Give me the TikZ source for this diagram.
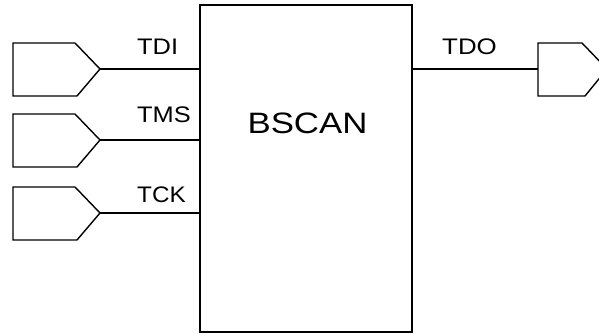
\documentclass[tikz,border=0pt]{standalone}
\usepackage{fontspec}
\setmainfont{Liberation Sans}
\begin{document}
\begin{tikzpicture}[x=1pt,y=-1pt,
  pin/.style={line width=1.4pt,line join=miter},
  wire/.style={line width=1.4pt},
  lbl/.style={inner sep=0pt,anchor=base west,font=\fontsize{22.5}{24}\selectfont},
  block/.style={draw,line width=2pt,minimum width=212pt,minimum height=327pt,inner sep=0pt}]
\useasboundingbox (0,0) rectangle (599,334);
\clip (0,0) rectangle (599,334);
\node[block] (bscan) at (306,168.5) {};
\node[inner sep=0pt,anchor=base,font=\fontsize{29.5}{32}\selectfont] (title) at (307.5,133) {\scalebox{1.18}[1]{BSCAN}};
% input pins
\foreach \n/\y in {tdi/69,tms/140,tck/213}{
  \draw[pin] (13,\y-26) -- (75,\y-26) -- (100,\y) -- (77,\y+27) -- (13,\y+27) -- cycle;
  \coordinate (\n) at (100,\y);
  \draw[wire] (\n) -- (bscan.west |- \n);
}
\node[lbl] (ltdi) at (137,55) {\scalebox{1.13}[1]{TDI}};
\node[lbl] (ltms) at (137,122) {\scalebox{1.13}[1]{TMS}};
\node[lbl] (ltck) at (137,202) {\scalebox{1.08}[1]{TCK}};
% output pin
\coordinate (tdo) at (538,69);
\draw[pin] (538,43) -- (582,43) -- (607,69) -- (585,96) -- (538,96) -- cycle;
\draw[wire] (bscan.east |- tdo) -- (tdo);
\node[lbl] (ltdo) at (442,55) {\scalebox{1.15}[1]{TDO}};
\end{tikzpicture}
\end{document}
